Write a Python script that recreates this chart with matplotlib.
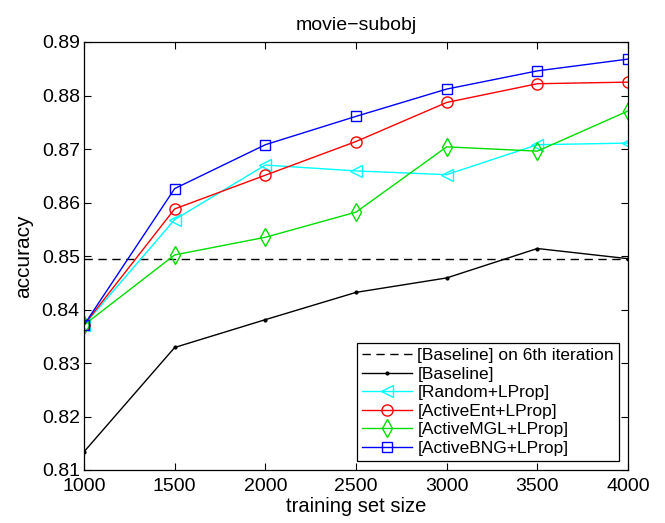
import matplotlib
matplotlib.use("Agg")
import matplotlib.pyplot as plt

plt.rcParams['font.family'] = ['Liberation Sans', 'DejaVu Sans']

sizes = [1000, 1500, 2000, 2500, 3000, 3500, 4000]
baseline_6th = 0.8495
baseline = [0.8134, 0.8329, 0.8381, 0.8432, 0.8459, 0.8514, 0.8495]
random_lprop = [0.8371, 0.8568, 0.8670, 0.8659, 0.8652, 0.8708, 0.8711]
activeent = [0.8371, 0.8588, 0.8651, 0.8714, 0.8787, 0.8822, 0.8825]
activemgl = [0.8371, 0.8502, 0.8535, 0.8582, 0.8704, 0.8696, 0.8771]
activebng = [0.8371, 0.8626, 0.8708, 0.8761, 0.8812, 0.8846, 0.8868]
labels = ['[Baseline] on 6th iteration', '[Baseline]', '[Random+LProp]',
          '[ActiveEnt+LProp]', '[ActiveMGL+LProp]', '[ActiveBNG+LProp]']
yticks = [0.81, 0.82, 0.83, 0.84, 0.85, 0.86, 0.87, 0.88, 0.89]

fig = plt.figure(figsize=(6.65, 5.23), dpi=100)
ax = fig.add_axes([84/665, 53/523, 544/665, 428/523])

ax.axhline(baseline_6th, color='black', linestyle=(0, (6, 4)), lw=1, label=labels[0])
ax.plot(sizes, baseline, color='black', marker='.', markersize=4, lw=1, label=labels[1])
ax.plot(sizes, random_lprop, color='cyan', marker='<', markersize=8, mfc='none', lw=1, label=labels[2])
ax.plot(sizes, activeent, color='red', marker='o', markersize=8, mfc='none', lw=1, label=labels[3])
ax.plot(sizes, activemgl, color='#00dd00', marker='d', markersize=9, mfc='none', lw=1, label=labels[4])
ax.plot(sizes, activebng, color='blue', marker='s', markersize=6.5, mfc='none', lw=1, label=labels[5])

ax.set_xlim(1000, 4000)
ax.set_ylim(0.81, 0.89)
ax.set_xticks(sizes)
ax.set_yticks(yticks)
ax.set_yticklabels([f"{v:.2f}" for v in yticks])
ax.tick_params(direction='in', length=5, top=True, right=True, labelsize=14, width=0.8, pad=3)
ax.tick_params(axis='x', pad=6)
for s in ax.spines.values():
    s.set_linewidth(0.9)

ax.set_title('movie\u2212subobj', fontsize=14, pad=9)
ax.set_xlabel('training set size', fontsize=14.5, labelpad=1)
ax.set_ylabel('accuracy', fontsize=15, labelpad=6)

leg = ax.legend(loc='lower right', fontsize=12.5, frameon=True, fancybox=False,
                framealpha=1, edgecolor='black', handlelength=2.9,
                borderaxespad=0.5, labelspacing=0.2, borderpad=0.3, handletextpad=0.3)
leg.get_frame().set_linewidth(0.9)

fig.savefig('out.png', dpi=100)
